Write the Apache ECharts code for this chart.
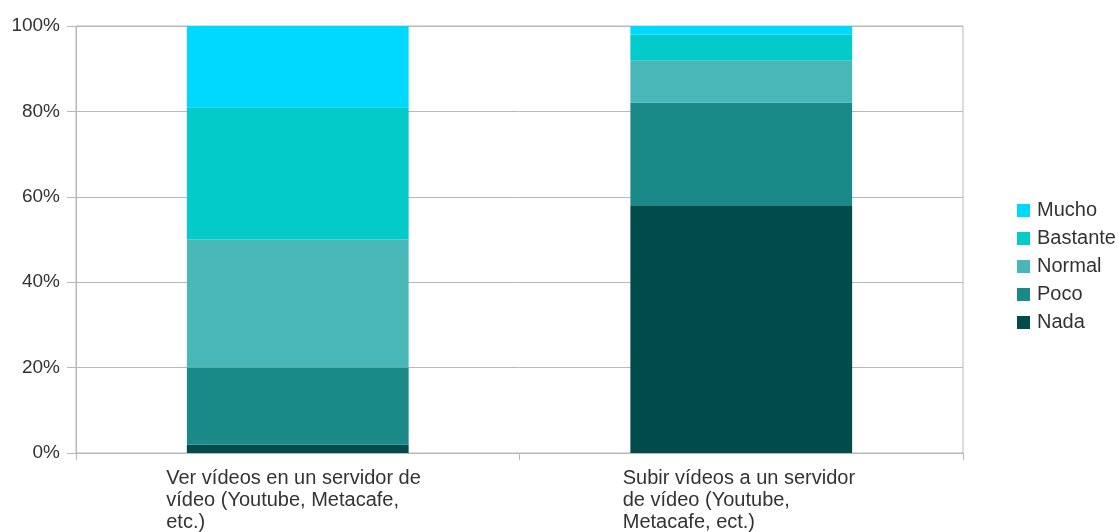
<!DOCTYPE html>
<html>
<head>
<meta charset="utf-8">
<script src="https://cdn.jsdelivr.net/npm/echarts@6/dist/echarts.min.js"></script>
<style>
  html, body { margin: 0; padding: 0; background: #fff; }
  #chart { width: 1118px; height: 532px; }
</style>
</head>
<body>
<div id="chart"></div>
<script>
// datos
const categories = [
    'Ver vídeos en un servidor de\nvídeo (Youtube, Metacafe,\netc.)',
    'Subir vídeos a un servidor\nde vídeo (Youtube,\nMetacafe, ect.)'
];
const nada = [2, 58];
const poco = [18, 24];
const normal = [30, 10];
const bastante = [31, 6];
const mucho = [19, 2];
const yTicks = [0, 20, 40, 60, 80, 100];

const gray = '#b8b8b8';
const font = 'Liberation Sans, Arial, sans-serif';

const chart = echarts.init(document.getElementById('chart'));

const mkSeries = (name, data, color) => ({
    name,
    type: 'bar',
    stack: 'total',
    barWidth: '50%',
    data,
    itemStyle: { color },
    emphasis: { disabled: true }
});

// etiquetas alineadas a la izquierda dentro de una caja centrada
const wrapLabel = (v, i) => {
    const k = i === 0 ? 'a' : 'b';
    return v.split('\n').map(l => '{' + k + '|' + l + '}').join('\n');
};

const option = {
    animation: false,
    textStyle: { fontFamily: font },
    grid: {
        left: 76, right: 155, top: 26, bottom: 77,
        show: true, borderColor: gray, borderWidth: 1
    },
    legend: {
        orient: 'vertical',
        left: 1012,
        top: 195,
        itemWidth: 13,
        itemHeight: 13,
        itemGap: 7,
        icon: 'rect',
        data: ['Mucho', 'Bastante', 'Normal', 'Poco', 'Nada'],
        textStyle: { fontSize: 20, color: '#333', lineHeight: 21, padding: [0, 0, 0, 2] }
    },
    xAxis: {
        type: 'category',
        data: categories,
        axisLine: { lineStyle: { color: gray } },
        axisTick: { show: true, length: 7, lineStyle: { color: gray } },
        axisLabel: {
            margin: 14,
            formatter: wrapLabel,
            rich: {
                a: { width: 263, align: 'left', fontSize: 20, lineHeight: 22, color: '#333', fontFamily: font },
                b: { width: 237, align: 'left', fontSize: 20, lineHeight: 22, color: '#333', fontFamily: font }
            }
        }
    },
    yAxis: {
        type: 'value',
        min: 0,
        max: 100,
        interval: 20,
        axisLine: { show: true, lineStyle: { color: gray } },
        axisTick: { show: true, length: 9, lineStyle: { color: gray } },
        splitLine: { lineStyle: { color: gray } },
        axisLabel: {
            margin: 16,
            fontSize: 19,
            color: '#333',
            formatter: v => (yTicks.includes(v) ? v + '%' : '')
        }
    },
    series: [
        mkSeries('Nada', nada, '#004c4b'),
        mkSeries('Poco', poco, '#1a8a89'),
        mkSeries('Normal', normal, '#49b7b7'),
        mkSeries('Bastante', bastante, '#02cbc9'),
        mkSeries('Mucho', mucho, '#00d9ff')
    ]
};

chart.setOption(option);
</script>
</body>
</html>
